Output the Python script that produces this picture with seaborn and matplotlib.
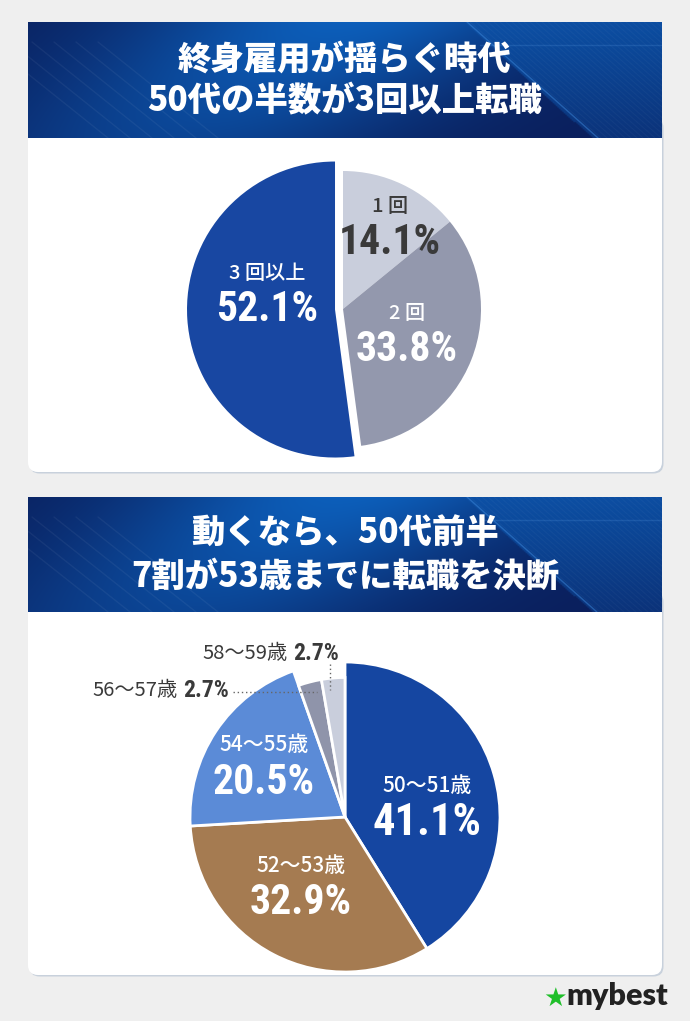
import numpy as np
import matplotlib.pyplot as plt
import seaborn as sns
from matplotlib import font_manager as fm
from matplotlib.patches import FancyBboxPatch, Rectangle

sns.set_theme(style="white")
plt.rcParams['font.family'] = ['Noto Sans CJK JP', 'DejaVu Sans']

# chart values
q1_labels = ['1 回', '2 回', '3 回以上']
q1_values = [14.1, 33.8, 52.1]
q1_colors = ['#c9cedc', '#9398ad', '#1847a2']

q2_labels = ['50〜51歳', '52〜53歳', '54〜55歳', '56〜57歳', '58〜59歳']
q2_values = [41.1, 32.9, 20.5, 2.7, 2.7]
q2_colors = ['#1546a1', '#a57b51', '#5b8bd7', '#8f94aa', '#c9cedc']

title1 = ['終身雇用が揺らぐ時代', '50代の半数が3回以上転職']
title2 = ['動くなら、50代前半', '7割が53歳までに転職を決断']

names = {f.name for f in fm.fontManager.ttflist}
num_font = next((n for n in ['Roboto Condensed', 'Liberation Sans Narrow', 'Roboto']
                 if n in names), 'DejaVu Sans')

W, H = 690, 1021
BG = '#efefef'
fig = plt.figure(figsize=(W / 100, H / 100), dpi=100)
fig.patch.set_facecolor(BG)

base = fig.add_axes([0, 0, 1, 1])
base.set_xlim(0, W)
base.set_ylim(H, 0)
base.axis('off')


def banner(ax, y0, y1, lines):
    x0, x1 = 28, 662
    u = np.linspace(0, 1, 400)[None, :]
    v = np.linspace(0, 1, 80)[:, None]
    dark = np.array([0.04, 0.12, 0.36])
    bright = np.array([0.05, 0.37, 0.73])
    t = np.exp(-((u + 0.25 * v - 0.5) / 0.34) ** 2) * (1 - 0.4 * v)
    edge = 0.69 + 0.2 * v
    right = u > edge
    t = np.where(right, 0.78 - 0.45 * v - 0.15 * (u - edge), t)
    t = np.clip(t, 0, 1)
    img = dark + (bright - dark) * t[..., None]
    ax.imshow(img, extent=(x0, x1, y1, y0), origin='upper',
              aspect='auto', zorder=2, interpolation='bilinear')
    clip = Rectangle((x0, y0), x1 - x0, y1 - y0, transform=ax.transData)
    # decorative streaks
    for k in range(6):
        xs = x0 - 40 + 22 * k
        ln, = ax.plot([xs, xs + 120], [y0 + 20, y1], color='white',
                      alpha=0.05, lw=1, zorder=3)
        ln.set_clip_path(clip)
    ln, = ax.plot([467, 467 + 1.13 * (y1 - y0)], [y0, y1], color='#3d86d8',
                  alpha=0.5, lw=1, zorder=3)
    ln.set_clip_path(clip)
    ln, = ax.plot([480, x1], [y0 + 23, y0 + 23], color='#4d8fd8', alpha=0.25,
                  lw=1, zorder=3)
    ln.set_clip_path(clip)
    for k in range(40):
        xs = 470 + 6 * k
        ln, = ax.plot([xs, xs + 1.13 * (y1 - y0)], [y0, y1], color='white',
                      alpha=0.03, lw=0.8, zorder=3)
        ln.set_clip_path(clip)
    cy = (y0 + y1) / 2
    ax.text(345, cy - 21, lines[0], color='white', fontsize=24, weight='heavy',
            ha='center', va='center', zorder=4)
    ax.text(345, cy + 21, lines[1], color='white', fontsize=24, weight='heavy',
            ha='center', va='center', zorder=4)


def panel(ax, y0, y1):
    sh = FancyBboxPatch((29.5, y0 - 20), 634, y1 - y0 + 21.5,
                        boxstyle='round,pad=0,rounding_size=10',
                        fc='#c8d1dc', ec='none', zorder=1)
    ax.add_patch(sh)
    p = FancyBboxPatch((28, y0 - 20), 634, y1 - y0 + 20,
                       boxstyle='round,pad=0,rounding_size=10',
                       fc='white', ec='none', zorder=1.5)
    ax.add_patch(p)


panel(base, 138, 472)
banner(base, 22, 138, title1)
panel(base, 612, 975)
banner(base, 497, 612, title2)


def pie_axes(cx, cy, r):
    s = 1.3
    ax = fig.add_axes([(cx - r * s) / W, 1 - (cy + r * s) / H,
                       2 * r * s / W, 2 * r * s / H])
    ax.patch.set_alpha(0)
    return ax


# pie 1
p1 = pie_axes(343, 309, 138)
w1, _ = p1.pie(q1_values, colors=q1_colors, startangle=90, counterclock=False,
               explode=[0, 0, 0.058], wedgeprops=dict(linewidth=0))
w1[2].set_radius(148 / 138)
p1.set_xlim(-1.3, 1.3)
p1.set_ylim(-1.3, 1.3)
p1.axis('off')

# pie 2
p2 = pie_axes(345, 817, 155)
w2, _ = p2.pie(q2_values, colors=q2_colors, startangle=90, counterclock=False,
               wedgeprops=dict(linewidth=2, edgecolor='white'))
for w in w2[3:]:
    w.set_radius(0.9)
p2.set_xlim(-1.3, 1.3)
p2.set_ylim(-1.3, 1.3)
p2.axis('off')

# text overlay
ov = fig.add_axes([0, 0, 1, 1], zorder=5)
ov.set_xlim(0, W)
ov.set_ylim(H, 0)
ov.axis('off')

DARK = '#3a3a3a'


def label(x, y, name, value, color, nsize=14.5, vsize=30, gap=36):
    ov.text(x, y, name, color=color, fontsize=nsize, weight='medium',
            ha='center', va='center')
    ov.text(x, y + gap, f'{value:.1f}%', color=color, fontsize=vsize,
            family=num_font, weight='bold', ha='center', va='center')


label(390, 206, q1_labels[0], q1_values[0], DARK)
label(407, 313, q1_labels[1], q1_values[1], 'white')
label(267, 273, q1_labels[2], q1_values[2], 'white')

label(427, 786, q2_labels[0], q2_values[0], 'white', 15, 32, 37)
label(301, 866, q2_labels[1], q2_values[1], 'white', 15, 30, 36)
label(264, 745, q2_labels[2], q2_values[2], 'white', 15, 30, 37)

# small slices with leader lines
ov.text(178, 690, q2_labels[3], color=DARK, fontsize=14.5, ha='right', va='center')
ov.text(183, 690, f'{q2_values[3]:.1f}%', color=DARK, fontsize=17,
        family=num_font, weight='bold', ha='left', va='center')
ov.plot([233, 317], [692, 692], color='#666666', lw=1, ls=(0, (1, 2)))

ov.text(288, 653, q2_labels[4], color=DARK, fontsize=14.5, ha='right', va='center')
ov.text(293, 653, f'{q2_values[4]:.1f}%', color=DARK, fontsize=17,
        family=num_font, weight='bold', ha='left', va='center')
ov.plot([330, 330], [664, 690], color='#666666', lw=1, ls=(0, (1, 2)))

# logo
ov.text(555, 999, '★', color='#1fbf2a', fontsize=19, family='DejaVu Sans',
        ha='center', va='center')
ov.text(566, 996, 'mybest', color='#222222', fontsize=22, family='Lato',
        weight='heavy', ha='left', va='center')

fig.savefig('out.png', dpi=100, facecolor=BG)
